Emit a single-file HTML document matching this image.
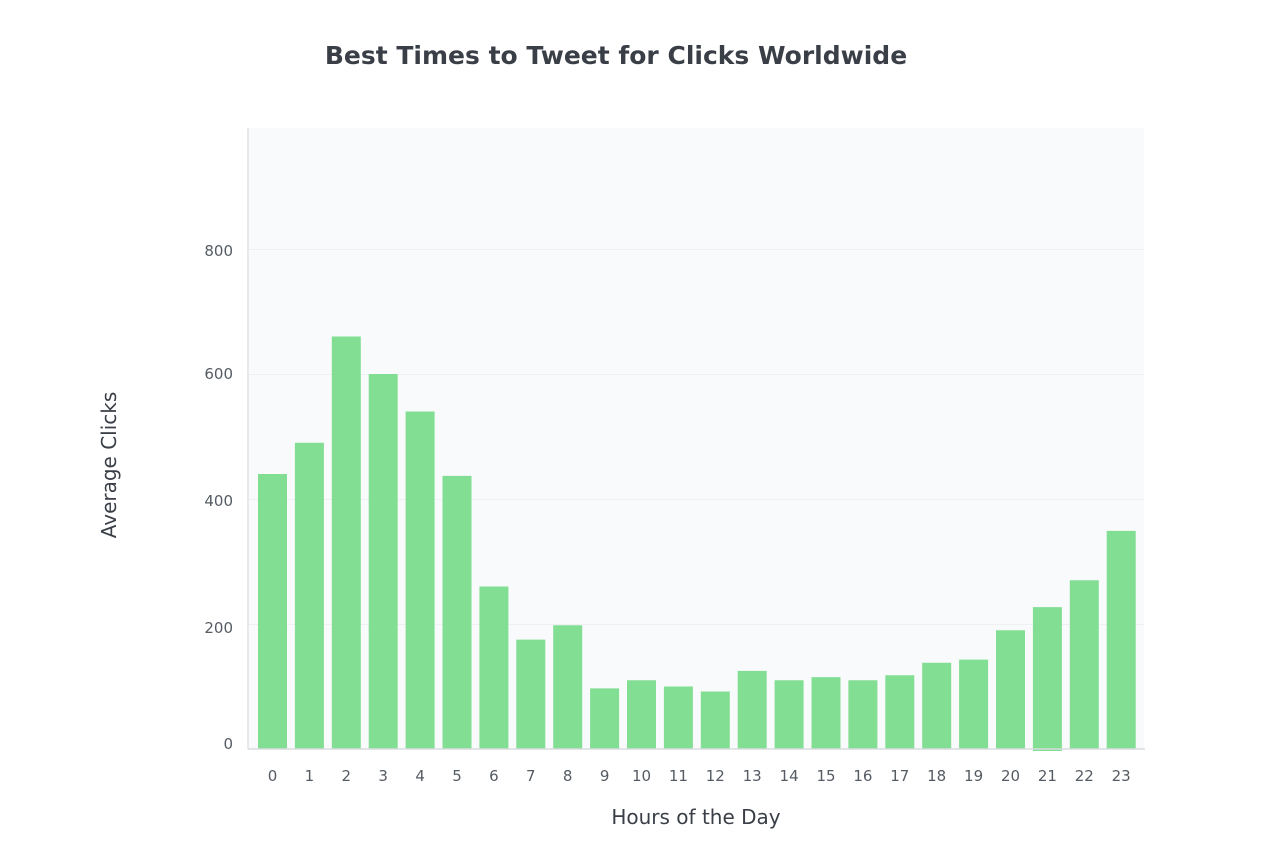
<!DOCTYPE html>
<html><head><meta charset="utf-8"><style>
body{margin:0;background:#fff;}
svg text{font-family:"DejaVu Sans","Liberation Sans",sans-serif;}
</style></head><body>
<svg width="1280" height="856" viewBox="0 0 1280 856" xmlns="http://www.w3.org/2000/svg">
<rect width="1280" height="856" fill="#fff"/>
<text x="616" y="64" text-anchor="middle" font-size="25" font-weight="bold" fill="#3a3f47">Best Times to Tweet for Clicks Worldwide</text>
<rect x="248" y="128" width="896" height="621" fill="#f9fafc"/>
<g stroke="#eef0f3" stroke-width="1">
<line x1="248" y1="249.5" x2="1144" y2="249.5"/>
<line x1="248" y1="374.5" x2="1144" y2="374.5"/>
<line x1="248" y1="499.5" x2="1144" y2="499.5"/>
<line x1="248" y1="624.5" x2="1144" y2="624.5"/>
</g>
<line x1="248" y1="128" x2="248" y2="749" stroke="#dfe6e2" stroke-width="1.5"/>
<g font-size="15" fill="#555b63" text-anchor="end">
<text x="233" y="256">800</text>
<text x="233" y="379">600</text>
<text x="233" y="506">400</text>
<text x="233" y="633">200</text>
<text x="233" y="749">0</text>
</g>
<g fill="#82de92" id="bars"></g>
<line x1="248" y1="749" x2="1145" y2="749" stroke="#d8dce0" stroke-width="1.5"/>
<g font-size="15" fill="#555b63" text-anchor="middle" id="xt"></g>
<text x="696" y="824" text-anchor="middle" font-size="20" fill="#3a3f47">Hours of the Day</text>
<text transform="translate(116,465) rotate(-90)" text-anchor="middle" font-size="20" fill="#3a3f47">Average Clicks</text>
<script>
var v=[440,490,660,600,540,437,260,175,198,97,110,100,92,125,110,115,110,118,138,143,190,227,270,349];
var b=document.getElementById('bars'),t=document.getElementById('xt'),ns='http://www.w3.org/2000/svg';
for(var i=0;i<24;i++){var c=272.5+36.9*i;var h=v[i]*0.625;
var r=document.createElementNS(ns,'rect');r.setAttribute('x',c-14.5);r.setAttribute('width',29);r.setAttribute('y',749-h);r.setAttribute('height',h+(i==21?2:0));b.appendChild(r);
var x=document.createElementNS(ns,'text');x.setAttribute('x',c);x.setAttribute('y',781);x.textContent=i;t.appendChild(x);}
</script>
</svg>
</body></html>
